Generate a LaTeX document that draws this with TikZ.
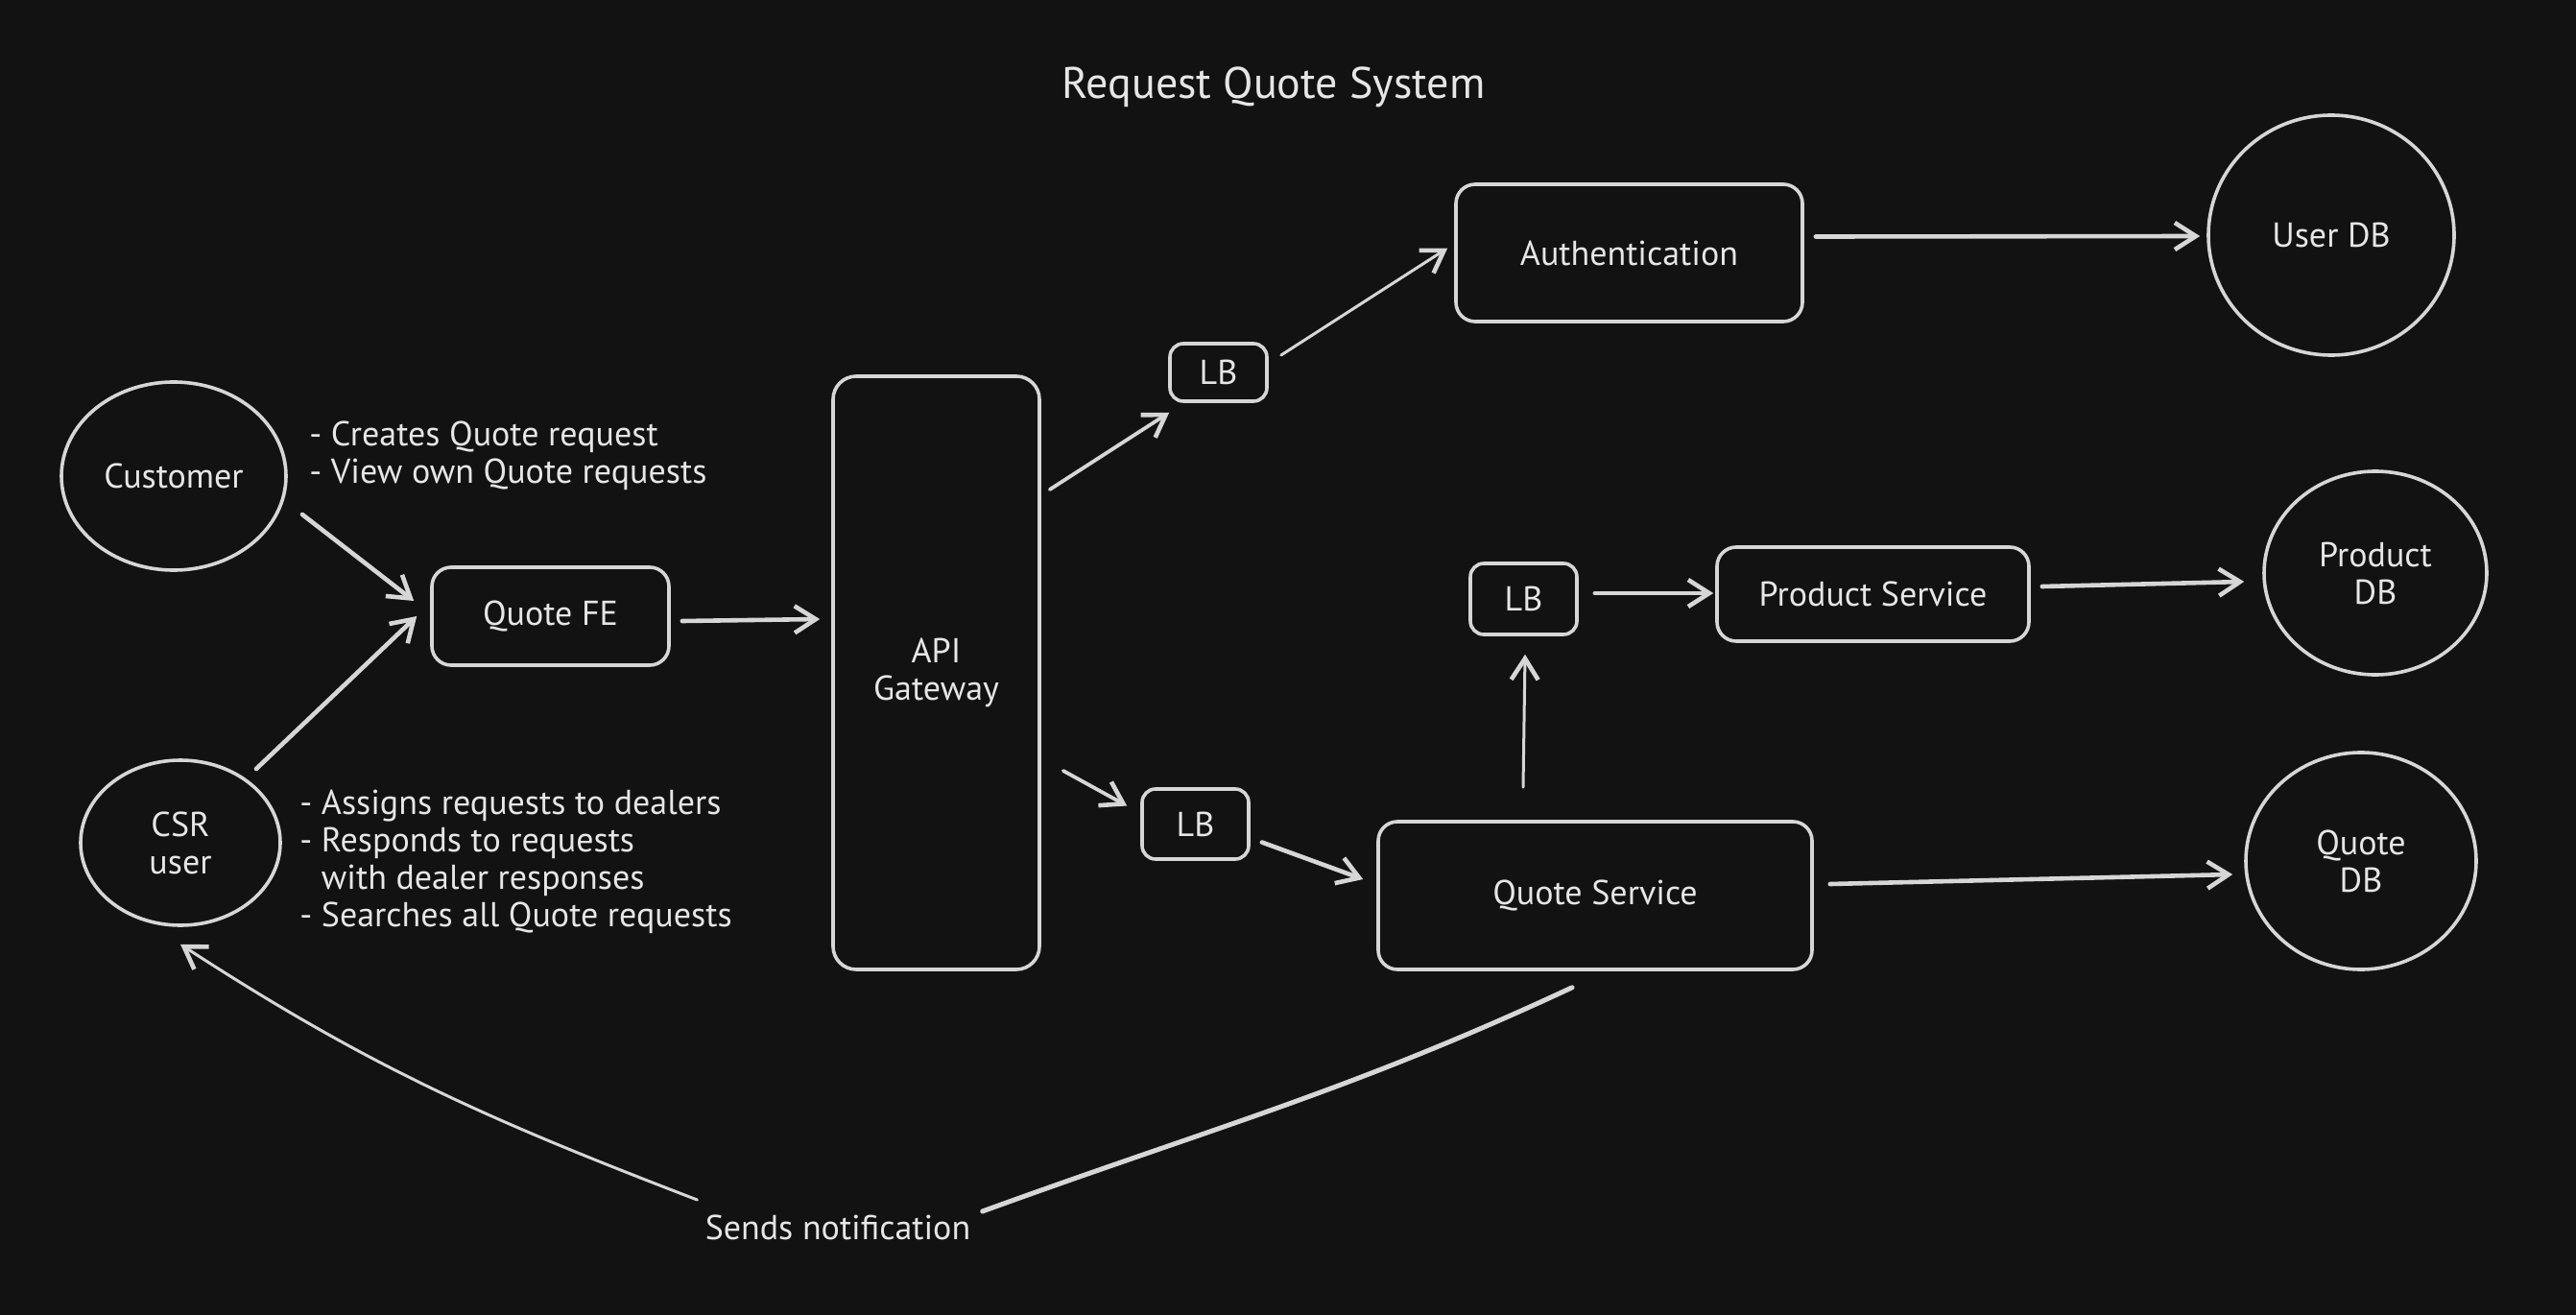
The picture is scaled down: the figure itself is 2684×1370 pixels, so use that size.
\documentclass[tikz,border=0pt]{standalone}
\usepackage{fontspec}
\setmainfont{PT Sans}
\usetikzlibrary{arrows.meta,shapes.geometric,calc}
\definecolor{bg}{HTML}{121212}
\definecolor{ink}{HTML}{D6D6D6}
\definecolor{txt}{HTML}{E6E6E6}
\newcommand{\lblfont}{\fontsize{18}{19.5}\selectfont}
\begin{document}
\begin{tikzpicture}[x=0.5pt,y=-0.5pt,
  box/.style={draw=ink, line width=1.8pt, rounded corners=10pt, text=txt, font=\lblfont, inner sep=0pt, align=center},
  circ/.style={ellipse, draw=ink, line width=1.8pt, text=txt, font=\lblfont, inner sep=0pt, align=center},
  note/.style={text=txt, font=\lblfont, align=left, anchor=west, inner sep=0pt},
  arr/.style={draw=ink, line width=2.3pt, line cap=round, line join=round, -{Straight Barb[length=11pt,width=14pt,line width=2.3pt]}},
  thinarr/.style={arr, line width=1.5pt}
]
\fill[bg] (0,0) rectangle (2684,1370);
\useasboundingbox (0,0) rectangle (2684,1370);

\node[text=txt, font=\fontsize{23}{27}\selectfont] (title) at (1327,91) {Request Quote System};

\node[box, minimum width=180.5pt, minimum height=71.5pt] (auth) at (1697.5,263.5) {Authentication};
\node[circ, minimum width=128pt, minimum height=125pt] (userdb) at (2429,245) {User DB};
\node[box, minimum width=50.5pt, minimum height=30pt, rounded corners=7pt] (lb1) at (1269.5,388) {LB};
\node[circ, minimum width=117pt, minimum height=98pt] (customer) at (181,496) {Customer};
\node[box, minimum width=123.5pt, minimum height=51pt] (quotefe) at (573.5,642) {Quote FE};
\node[box, minimum width=107.5pt, minimum height=309pt, rounded corners=12pt] (api) at (975.5,701) {API\\Gateway};
\node[circ, minimum width=104pt, minimum height=86pt] (csr) at (188,878) {CSR\\user};
\node[box, minimum width=55.5pt, minimum height=37pt, rounded corners=7pt] (lb2) at (1587.5,624) {LB};
\node[box, minimum width=162.5pt, minimum height=49pt] (prod) at (1951.5,619) {Product Service};
\node[circ, minimum width=116pt, minimum height=106pt] (proddb) at (2475,597) {Product\\DB};
\node[box, minimum width=55.5pt, minimum height=36.5pt, rounded corners=7pt] (lb3) at (1245.5,858.5) {LB};
\node[box, minimum width=226pt, minimum height=77pt] (qs) at (1662,933) {Quote Service};
\node[circ, minimum width=120pt, minimum height=113pt] (quotedb) at (2460,897) {Quote\\DB};

\node[note] (custnotes) at (322,475) {- Creates Quote request\\- View own Quote requests};
\node[note] (csrnotes) at (312,898) {- Assigns requests to dealers\\- Responds to requests\\\hphantom{- }with dealer responses\\- Searches all Quote requests};
\node[text=txt, font=\lblfont, inner sep=0pt] (notif) at (873,1279) {Sends notification};

% connectors
\draw[arr] ($(customer)+(134,40)$) -- ($(quotefe.west)+(-17,-16)$);
\draw[arr] ($(csr)+(79,-77)$) -- ($(quotefe.west)+(-14,0)$);
\draw[arr] ($(quotefe.east)+(12,5)$) -- ($(api.west)+(-12,-56)$);
\draw[thinarr, line width=1.9pt] ($(api.east)+(9,-191)$) -- ($(lb1.south west)+(1,10)$);
\draw[thinarr] ($(lb1.east)+(13,-18)$) -- ($(auth.west)+(-7,-5)$);
\draw[arr] ($(auth.east)+(12,-17)$) -- ($(userdb.west)+(-7,1)$);
\draw[thinarr, line width=1.9pt] ($(api.east)+(23,102)$) -- ($(lb3.west)+(-14,-19)$);
\draw[arr] ($(lb3.east)+(12,19)$) -- ($(qs.west)+(-14,-17)$);
\draw[thinarr] ($(qs.north)+(-75,-34)$) -- ($(lb2.south)+(1.5,19)$);
\draw[arr] ($(lb2.east)+(17,-6)$) -- ($(prod.west)+(-2,-1)$);
\draw[arr] ($(prod.east)+(12,-8)$) -- ($(proddb.west)+(-19,9)$);
\draw[arr] ($(qs.east)+(17,-12)$) -- ($(quotedb.west)+(-12,14)$);
\draw[draw=ink, line width=2.5pt, line cap=round] ($(qs.south)+(-24,17)$) to[out=205,in=20] ($(notif.east)+(12,-17)$);
\draw[thinarr] ($(notif.west)+(-8,-29)$) to[out=159,in=-33] ($(csr.south)+(0,18)$);
\end{tikzpicture}
\end{document}
